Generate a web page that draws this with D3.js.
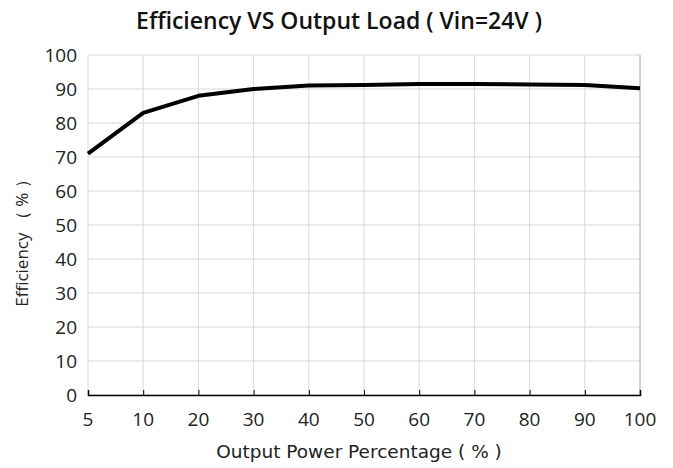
<!DOCTYPE html>
<html>
<head>
<meta charset="utf-8">
<script src="https://cdn.jsdelivr.net/npm/d3@7"></script>
<style>
  body { margin: 0; background: #fff; }
</style>
</head>
<body>
<div id="chart"></div>
<script>
// chart data
var loadLabels = ["5", "10", "20", "30", "40", "50", "60", "70", "80", "90", "100"];
var efficiency = [71, 83, 88, 90, 91, 91.2, 91.5, 91.5, 91.3, 91.2, 90.2];
var yTicks = [0, 10, 20, 30, 40, 50, 60, 70, 80, 90, 100];

var svgWidth = 673, svgHeight = 468;
var margin = {top: 55, right: 33, bottom: 73, left: 88};
var width = svgWidth - margin.left - margin.right;
var height = svgHeight - margin.top - margin.bottom;

var svg = d3.select("#chart")
	.append("svg")
		.attr("width", svgWidth)
		.attr("height", svgHeight)
		.style("font-family", "'Open Sans', 'DejaVu Sans', sans-serif");

var g = svg.append("g")
	.attr("transform", "translate(" + margin.left + "," + margin.top + ")");

var x = d3.scalePoint()
	.domain(loadLabels)
	.range([0, width]);

var y = d3.scaleLinear()
	.domain([0, 100])
	.range([height, 0]);

// horizontal grid
g.selectAll(".hgrid")
	.data(yTicks)
	.enter()
	.append("line")
	.attr("x1", 0)
	.attr("x2", width)
	.attr("y1", function(d) { return y(d); })
	.attr("y2", function(d) { return y(d); })
	.attr("stroke", "#d9d9d9")
	.attr("stroke-width", 1);

// vertical grid
g.selectAll(".vgrid")
	.data(loadLabels)
	.enter()
	.append("line")
	.attr("x1", function(d) { return x(d); })
	.attr("x2", function(d) { return x(d); })
	.attr("y1", 0)
	.attr("y2", height)
	.attr("stroke", function(d, i) { return i === loadLabels.length - 1 ? "#a6a6a6" : "#d9d9d9"; })
	.attr("stroke-width", 1);

// y axis labels
g.selectAll(".ylab")
	.data(yTicks)
	.enter()
	.append("text")
	.attr("x", -11)
	.attr("y", function(d) { return y(d); })
	.attr("dy", "0.36em")
	.attr("text-anchor", "end")
	.style("font-size", "19px")
	.style("fill", "#222")
	.text(function(d) { return d; });

// x axis
var xAxis = g.append("g")
	.attr("transform", "translate(0," + height + ")")
	.call(d3.axisTop(x).tickSize(5).tickFormat(""));
xAxis.select(".domain").attr("stroke", "#000").attr("stroke-width", 1.5);
xAxis.selectAll(".tick line").attr("stroke", "#000");

g.selectAll(".xlab")
	.data(loadLabels)
	.enter()
	.append("text")
	.attr("x", function(d) { return x(d); })
	.attr("y", height + 31)
	.attr("text-anchor", "middle")
	.style("font-size", "19px")
	.style("fill", "#222")
	.text(function(d) { return d; });

// efficiency line
var line = d3.line()
	.x(function(d, i) { return x(loadLabels[i]); })
	.y(function(d) { return y(d); });

g.append("path")
	.datum(efficiency)
	.attr("d", line)
	.attr("fill", "none")
	.attr("stroke", "#000")
	.attr("stroke-width", 4)
	.attr("stroke-linejoin", "round");

// titles
svg.append("text")
	.attr("x", 339)
	.attr("y", 29)
	.attr("text-anchor", "middle")
	.style("font-size", "23px")
	.style("font-weight", 600)
	.style("fill", "#111")
	.text("Efficiency VS Output Load ( Vin=24V )");

svg.append("text")
	.attr("x", 359)
	.attr("y", 458)
	.attr("text-anchor", "middle")
	.style("font-size", "18.5px")
	.style("font-family", "'DejaVu Sans', sans-serif")
	.style("fill", "#222")
	.text("Output Power Percentage ( % )");

svg.append("text")
	.attr("transform", "translate(28,239)rotate(-90)")
	.attr("text-anchor", "middle")
	.style("font-size", "17px")
	.style("fill", "#222")
	.text("Efficiency （ % ）");
</script>
</body>
</html>
